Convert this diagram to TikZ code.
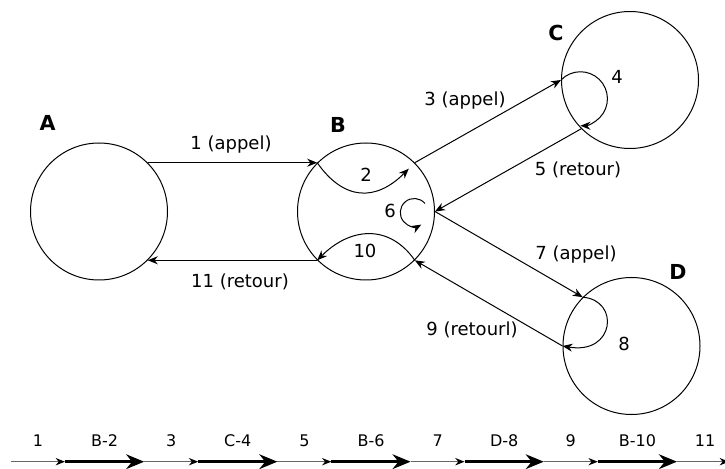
\documentclass[tikz,border=0pt]{standalone}
\usepackage{fontspec}
\setmainfont{DejaVu Sans}
\usetikzlibrary{arrows.meta}

\begin{document}
\begin{tikzpicture}[x=0.75pt,y=0.75pt,line width=0.75pt,-{Stealth[length=7.5pt,width=6pt]},
    proc/.style={draw,-,circle,minimum size=102.75pt,inner sep=0pt},
    objname/.style={font=\fontsize{15.5}{18}\selectfont\bfseries},
    lab/.style={font=\fontsize{13.5}{16}\selectfont},
    ticklab/.style={font=\fontsize{12}{14}\selectfont},
    thinseg/.style={black!60,line width=1pt,-{Stealth[length=7pt,width=5.5pt,color=black]}},
    thickseg/.style={black,line width=2.6pt,-{Stealth[length=13.5pt,width=11pt]}}]
        \useasboundingbox (0,0) rectangle (725,468);
        \node[proc] (A) at (99,256.5) {};
        \node[proc] (B) at (366,256.5) {};
        \node[proc] (C) at (630,388) {};
        \node[proc] (D) at (631.5,122) {};
        \node[objname] (nA) at (47.5,345.5) {A};
        \node[objname] (nB) at (338,343) {B};
        \node[objname] (nC) at (556,435) {C};
        \node[objname] (nD) at (678,196) {D};
        \draw (A.45) -- (B.135);
        \draw (B.135) to[out=-55,in=-135,looseness=1.3] ([shift={(-6,-6)}]B.45);
        \draw (B.45) -- (C.180);
        \draw (C.180) arc[start angle=136,end angle=-90,radius=20.25pt];
        \draw (C.225) -- (B.0);
        \draw ([shift={(59,8)}]B.center) arc[start angle=40,end angle=300,radius=10.5pt];
        \draw (B.0) -- (D.135);
        \draw (D.135) .. controls (620,168) and (615,113) .. (D.180);
        \draw (D.180) -- (B.-45);
        \draw (B.-45) to[out=125,in=45,looseness=1.2] (B.225);
        \draw (B.225) -- (A.-45);
        \node[lab] (l1) at (231,323) {1 (appel)};
        \node[lab] (l2) at (366,293) {2};
        \node[lab] (l3) at (465,367.5) {3 (appel)};
        \node[lab] (l4) at (617,391) {4};
        \node[lab] (l5) at (578,298) {5 (retour)};
        \node[lab] (l6) at (390,257) {6};
        \node[lab] (l7) at (576,213) {7 (appel)};
        \node[lab] (l8) at (624,124) {8};
        \node[lab] (l9) at (472,138) {9 (retourl)};
        \node[lab] (l10) at (365,217) {10};
        \node[lab] (l11) at (240,186) {11 (retour)};
        \foreach \i/\a/\b in {0/1/B-2,1/3/C-4,2/5/B-6,3/7/D-8,4/9/B-10} {
            \coordinate (s\i) at (11+133.2*\i,6.3);
            \coordinate (m\i) at (65+133.2*\i,6.3);
            \coordinate (e\i) at (144.2+133.2*\i,6.3);
            \draw[thinseg] (s\i) -- (m\i);
            \draw[thickseg] (m\i) -- (e\i);
            \node[ticklab] (t\a) at (38+133.2*\i,27) {\a};
            \node[ticklab] (t\b) at (104.6+133.2*\i,27) {\b};
        }
        \coordinate (end) at (729,6.3);
        \draw[thinseg] (e4) -- (end);
        \node[ticklab] (t11) at (705,27) {11};
    \end{tikzpicture}
\end{document}
